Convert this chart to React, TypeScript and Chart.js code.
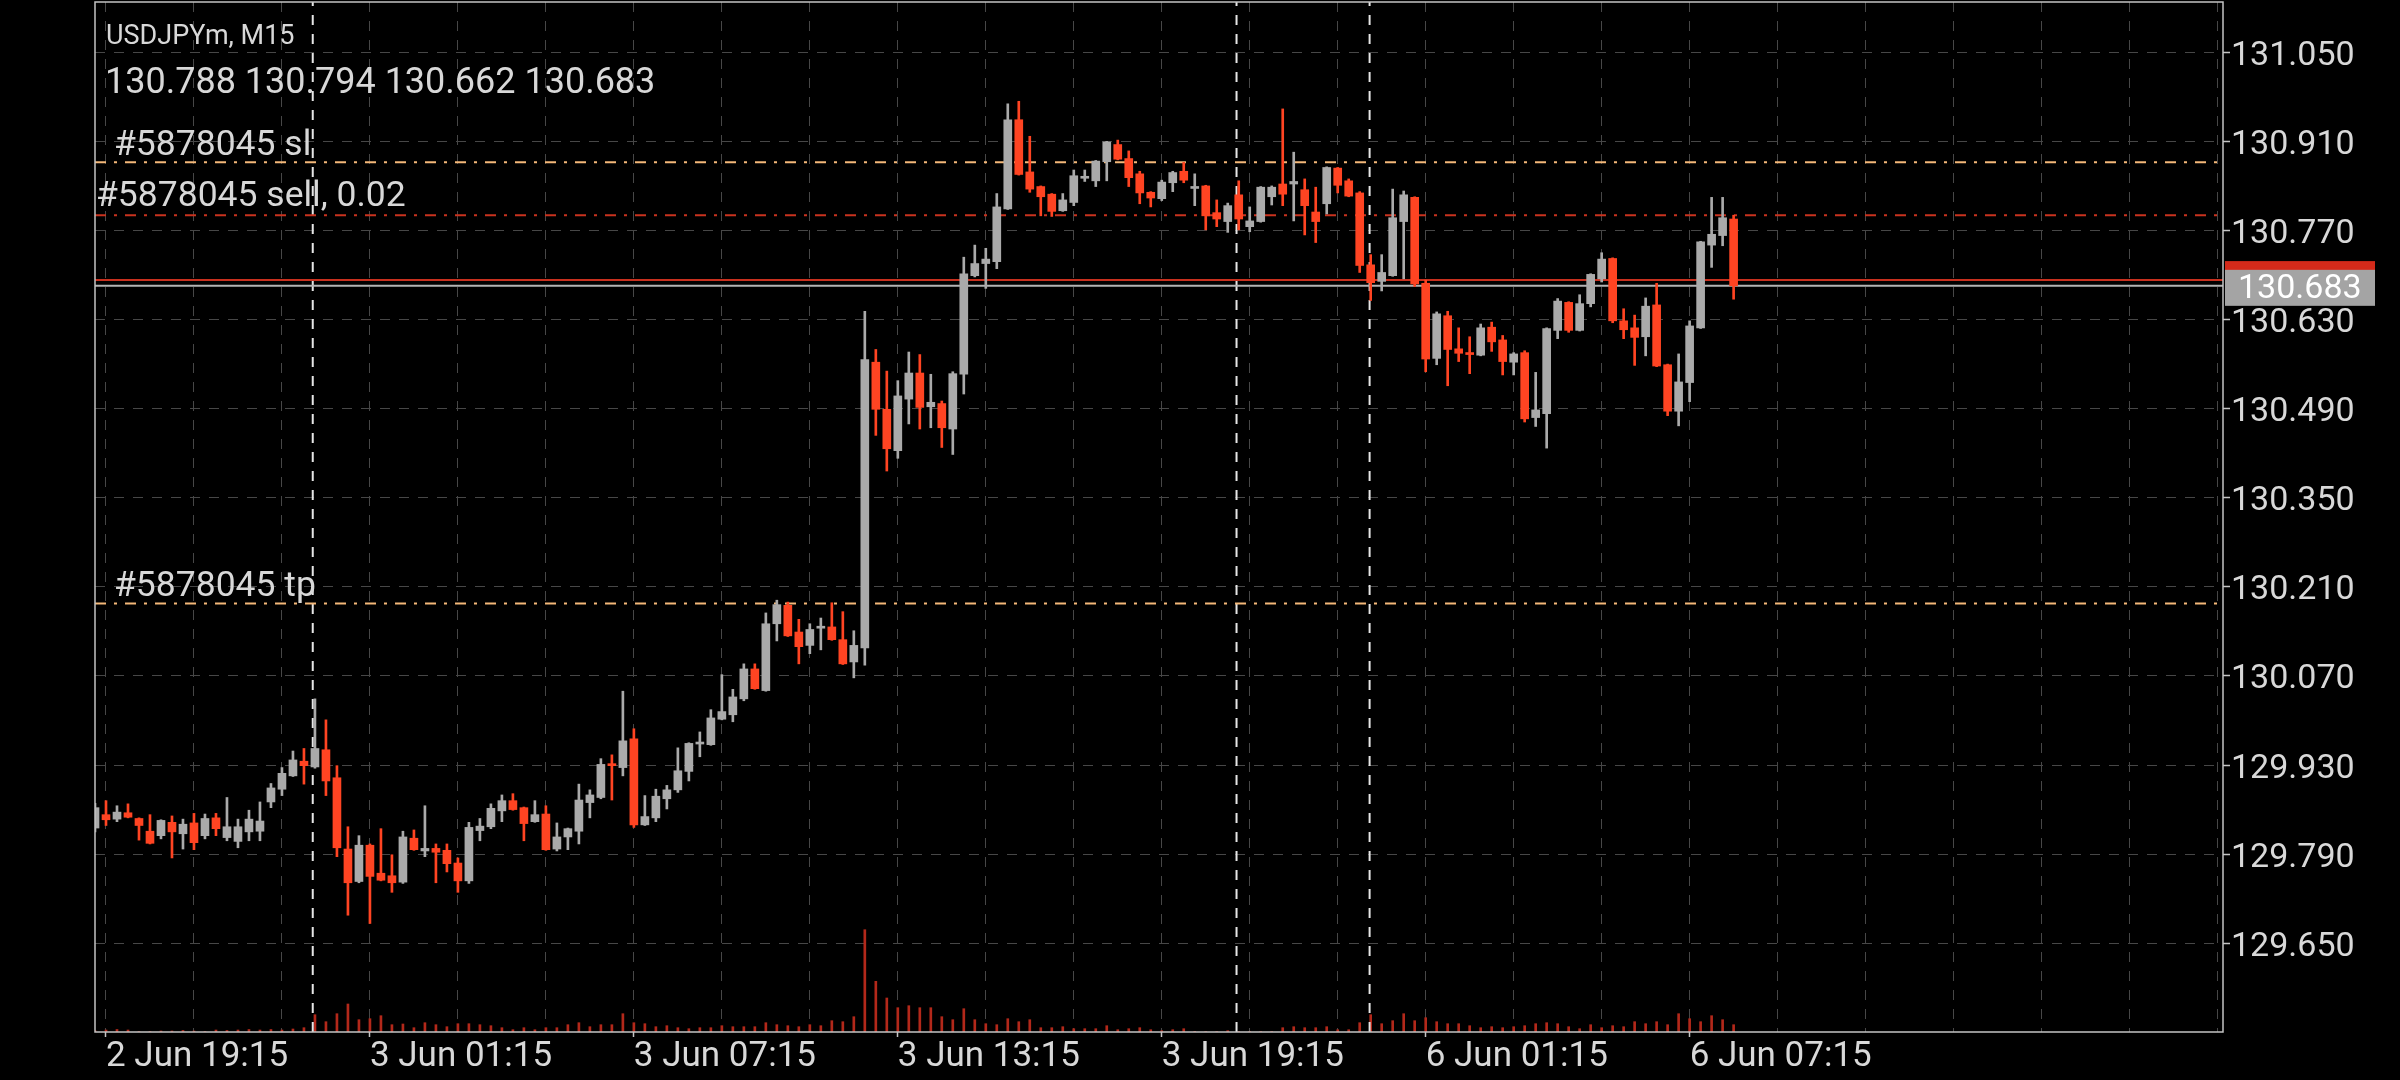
import React, { useEffect, useRef } from 'react';
import { Chart, registerables } from 'chart.js';

Chart.register(...registerables);

// ---------------- data ----------------
const SYMBOL = 'USDJPYm, M15';
// index of the first (partly hidden) bar: 2 Jun 19:00; index 0 = 2 Jun 19:15
const FIRST_BAR = -1;

const opens = [
  129.831, 129.852, 129.845, 129.855, 129.846, 129.826, 129.819, 129.840, 129.822, 129.839,
  129.819, 129.847, 129.816, 129.810, 129.825, 129.826, 129.872, 129.892, 129.913, 129.936,
  129.927, 129.954, 129.910, 129.798, 129.747, 129.804, 129.760, 129.756, 129.746, 129.815,
  129.795, 129.799, 129.796, 129.776, 129.748, 129.827, 129.833, 129.858, 129.874, 129.863,
  129.841, 129.853, 129.798, 129.817, 129.826, 129.871, 129.879, 129.931, 129.926, 129.971,
  129.836, 129.847, 129.877, 129.891, 129.920, 129.963, 129.962, 130.002, 130.009, 130.034,
  130.081, 130.047, 130.152, 130.181, 130.139, 130.118, 130.145, 130.147, 130.127, 130.092,
  130.114, 130.563, 130.489, 130.424, 130.505, 130.546, 130.493, 130.498, 130.458, 130.544,
  130.699, 130.718, 130.721, 130.804, 130.944, 130.862, 130.839, 130.827, 130.801, 130.814,
  130.852, 130.848, 130.878, 130.905, 130.883, 130.859, 130.830, 130.820, 130.845, 130.863,
  130.836, 130.840, 130.798, 130.784, 130.826, 130.776, 130.784, 130.823, 130.843, 130.843,
  130.834, 130.799, 130.812, 130.868, 130.848, 130.829, 130.716, 130.690, 130.699, 130.784,
  130.822, 130.687, 130.569, 130.636, 130.584, 130.577, 130.574, 130.618, 130.598, 130.563,
  130.578, 130.476, 130.482, 130.613, 130.657, 130.613, 130.655, 130.694, 130.726, 130.628,
  130.617, 130.603, 130.653, 130.559, 130.486, 130.531, 130.617, 130.747, 130.762, 130.788,
];
const highs = [
  129.870, 129.874, 129.866, 129.869, 129.847, 129.852, 129.844, 129.850, 129.845, 129.854,
  129.853, 129.854, 129.879, 129.845, 129.859, 129.872, 129.901, 129.926, 129.952, 129.956,
  130.034, 130.001, 129.929, 129.833, 129.819, 129.806, 129.830, 129.789, 129.826, 129.828,
  129.866, 129.806, 129.806, 129.784, 129.840, 129.846, 129.869, 129.883, 129.885, 129.864,
  129.874, 129.866, 129.839, 129.831, 129.900, 129.891, 129.940, 129.946, 130.046, 129.987,
  129.882, 129.892, 129.898, 129.957, 129.965, 129.982, 130.017, 130.072, 130.049, 130.089,
  130.089, 130.169, 130.189, 130.186, 130.159, 130.152, 130.161, 130.185, 130.171, 130.141,
  130.643, 130.583, 130.549, 130.534, 130.579, 130.575, 130.544, 130.502, 130.548, 130.728,
  130.747, 130.742, 130.828, 130.969, 130.973, 130.918, 130.840, 130.828, 130.828, 130.865,
  130.865, 130.880, 130.910, 130.912, 130.895, 130.863, 130.831, 130.849, 130.863, 130.877,
  130.859, 130.841, 130.818, 130.813, 130.848, 130.807, 130.839, 130.840, 130.961, 130.893,
  130.851, 130.838, 130.870, 130.869, 130.851, 130.831, 130.732, 130.732, 130.835, 130.832,
  130.823, 130.692, 130.642, 130.643, 130.617, 130.603, 130.623, 130.626, 130.605, 130.578,
  130.581, 130.547, 130.617, 130.663, 130.658, 130.669, 130.702, 130.735, 130.727, 130.647,
  130.637, 130.664, 130.687, 130.560, 130.576, 130.628, 130.753, 130.822, 130.822, 130.794,
];
const lows = [
  129.825, 129.835, 129.841, 129.847, 129.812, 129.806, 129.814, 129.784, 129.798, 129.797,
  129.814, 129.819, 129.811, 129.800, 129.811, 129.811, 129.863, 129.882, 129.912, 129.900,
  129.925, 129.882, 129.786, 129.694, 129.745, 129.681, 129.748, 129.730, 129.744, 129.796,
  129.786, 129.745, 129.762, 129.730, 129.744, 129.811, 129.830, 129.841, 129.859, 129.811,
  129.840, 129.796, 129.795, 129.797, 129.806, 129.847, 129.877, 129.875, 129.913, 129.832,
  129.835, 129.841, 129.861, 129.887, 129.905, 129.943, 129.961, 130.001, 129.998, 130.031,
  130.049, 130.046, 130.125, 130.132, 130.089, 130.105, 130.111, 130.126, 130.088, 130.067,
  130.087, 130.448, 130.392, 130.412, 130.466, 130.458, 130.460, 130.429, 130.418, 130.513,
  130.697, 130.679, 130.710, 130.803, 130.857, 130.830, 130.793, 130.792, 130.800, 130.809,
  130.847, 130.839, 130.848, 130.881, 130.839, 130.812, 130.807, 130.817, 130.831, 130.845,
  130.809, 130.771, 130.776, 130.767, 130.771, 130.768, 130.783, 130.810, 130.809, 130.785,
  130.763, 130.751, 130.796, 130.829, 130.823, 130.704, 130.660, 130.675, 130.698, 130.694,
  130.682, 130.548, 130.559, 130.526, 130.564, 130.545, 130.573, 130.580, 130.543, 130.543,
  130.469, 130.462, 130.428, 130.600, 130.610, 130.612, 130.650, 130.689, 130.625, 130.600,
  130.558, 130.573, 130.556, 130.479, 130.463, 130.501, 130.616, 130.712, 130.746, 130.662,
];
const closes = [
  129.863, 129.844, 129.856, 129.848, 129.835, 129.807, 129.843, 129.825, 129.837, 129.808,
  129.846, 129.830, 129.833, 129.833, 129.845, 129.842, 129.894, 129.917, 129.938, 129.929,
  129.956, 129.905, 129.800, 129.745, 129.804, 129.755, 129.749, 129.745, 129.817, 129.797,
  129.799, 129.793, 129.775, 129.748, 129.832, 129.834, 129.862, 129.874, 129.860, 129.838,
  129.852, 129.797, 129.817, 129.830, 129.875, 129.883, 129.931, 129.929, 129.968, 129.836,
  129.849, 129.881, 129.891, 129.921, 129.964, 129.966, 130.004, 130.014, 130.037, 130.081,
  130.050, 130.152, 130.182, 130.133, 130.116, 130.143, 130.147, 130.127, 130.089, 130.118,
  130.567, 130.489, 130.427, 130.510, 130.546, 130.492, 130.500, 130.460, 130.545, 130.702,
  130.718, 130.725, 130.807, 130.944, 130.858, 130.835, 130.823, 130.800, 130.818, 130.856,
  130.854, 130.879, 130.909, 130.882, 130.853, 130.829, 130.821, 130.846, 130.861, 130.849,
  130.838, 130.793, 130.788, 130.809, 130.788, 130.785, 130.838, 130.838, 130.827, 130.847,
  130.809, 130.784, 130.869, 130.841, 130.824, 130.715, 130.688, 130.704, 130.790, 130.826,
  130.686, 130.568, 130.639, 130.583, 130.577, 130.575, 130.617, 130.595, 130.564, 130.576,
  130.474, 130.488, 130.616, 130.659, 130.613, 130.655, 130.701, 130.725, 130.628, 130.614,
  130.602, 130.651, 130.557, 130.486, 130.532, 130.620, 130.752, 130.764, 130.790, 130.683,
];
// tick volumes
const volumes = [
  15, 20, 25, 20, 5, 5, 10, 10, 15, 10,
  5, 20, 15, 20, 25, 20, 25, 20, 30, 43,
  173, 103, 183, 280, 123, 133, 163, 73, 80, 43,
  93, 73, 53, 83, 83, 73, 63, 43, 23, 43,
  23, 43, 43, 73, 93, 53, 73, 73, 183, 93,
  83, 53, 63, 43, 33, 43, 43, 63, 53, 53,
  53, 93, 73, 63, 53, 73, 63, 113, 103, 153,
  1023, 507, 340, 243, 263, 243, 243, 153, 123, 233,
  123, 83, 73, 133, 103, 123, 43, 43, 53, 33,
  33, 33, 63, 23, 33, 43, 23, 13, 23, 33,
  6, 4, 4, 13, 5, 5, 5, 5, 43, 53,
  43, 43, 53, 23, 23, 93, 173, 83, 113, 183,
  113, 143, 103, 83, 83, 63, 43, 53, 43, 53,
  63, 83, 93, 83, 53, 33, 73, 43, 63, 53,
  103, 83, 103, 73, 183, 133, 103, 163, 123, 73,
];

const timeTickIndex = [0, 24, 48, 72, 96, 120, 144];
const timeTickLabels = ['2 Jun 19:15', '3 Jun 01:15', '3 Jun 07:15', '3 Jun 13:15', '3 Jun 19:15', '6 Jun 01:15', '6 Jun 07:15'];
const priceTicks = [129.65, 129.79, 129.93, 130.07, 130.21, 130.35, 130.49, 130.63, 130.77, 130.91, 131.05];
const separatorIndex = [18.8, 102.8, 114.9];

const BID = 130.683;
const ASK = 130.692;
const ORDER_TICKET = '#5878045';
const ORDER_LOTS = '0.02';
const ORDER_PRICE = 130.794;
const ORDER_SL = 130.877;
const ORDER_TP = 130.184;

// ---------------- view settings ----------------
const X_MIN = -1;
const X_MAX = 192.5;
const Y_MIN = 129.5105;
const Y_MAX = 131.129;
const VOL_MAX = 10300;
const GRID_STEP = 8;

const BULL = '#aaaaaa';
const BEAR = '#ff4422';
const VOL = '#b3281a';
const GRID = '#474747';
const FRAME = '#c4c4c4';
const TEXT = '#d8d8d8';
const FONT = 'Roboto';

export default function App() {
  const ref = useRef<HTMLCanvasElement>(null);

  useEffect(() => {
    document.body.style.margin = '0';
    document.body.style.background = '#000';
    const canvas = ref.current!;
    const bars = opens.map((_, k) => FIRST_BAR + k);
    const colors = bars.map((_, k) => (closes[k] >= opens[k] ? BULL : BEAR));
    const gridTicks: number[] = [];
    for (let v = 0; v <= X_MAX; v += GRID_STEP) gridTicks.push(v);

    const level = (value: number, color: string, dash: number[], width: number) => ({
      type: 'line' as const,
      data: [{ x: X_MIN, y: value }, { x: X_MAX, y: value }],
      borderColor: color,
      borderWidth: width,
      borderDash: dash,
      pointRadius: 0,
      order: 4,
      yAxisID: 'y',
    });
    const separator = (idx: number) => ({
      type: 'line' as const,
      data: [{ x: idx, y: Y_MIN }, { x: idx, y: Y_MAX }],
      borderColor: '#e6e6e6',
      borderWidth: 2,
      borderDash: [10, 9],
      pointRadius: 0,
      order: 5,
      yAxisID: 'y',
    });

    const last = opens.length - 1;
    const ohlcText = [opens[last], highs[last], lows[last], closes[last]].map((v) => v.toFixed(3)).join(' ');

    const overlay = {
      id: 'mt5overlay',
      afterDraw(chart: any) {
        const { ctx, chartArea: a } = chart;
        const y = chart.scales.y;
        ctx.save();
        // frame
        ctx.strokeStyle = FRAME;
        ctx.lineWidth = 1.5;
        ctx.strokeRect(a.left, a.top, a.right - a.left, a.bottom - a.top);
        // header
        ctx.fillStyle = TEXT;
        ctx.textAlign = 'left';
        ctx.textBaseline = 'alphabetic';
        ctx.font = `27px ${FONT}`;
        ctx.fillText(SYMBOL, a.left + 11, 44);
        ctx.font = `36px ${FONT}`;
        ctx.fillText(ohlcText, a.left + 10, 93);
        // order labels
        ctx.font = `35.5px ${FONT}`;
        ctx.fillText(`${ORDER_TICKET} sl`, a.left + 19, y.getPixelForValue(ORDER_SL) - 7);
        ctx.fillText(`${ORDER_TICKET} sell, ${ORDER_LOTS}`, a.left + 1, y.getPixelForValue(ORDER_PRICE) - 9);
        ctx.fillText(`${ORDER_TICKET} tp`, a.left + 19, y.getPixelForValue(ORDER_TP) - 7);
        // price label
        const askY = y.getPixelForValue(ASK);
        const bidY = y.getPixelForValue(BID);
        const bx = a.right + 2;
        const bw = 150;
        ctx.fillStyle = '#d42a1a';
        ctx.fillRect(bx, askY - 19, bw, 36);
        ctx.fillStyle = '#a4a4a4';
        ctx.fillRect(bx, bidY - 16, bw, 36);
        ctx.fillStyle = '#ffffff';
        ctx.font = `34px ${FONT}`;
        ctx.textBaseline = 'middle';
        ctx.fillText(BID.toFixed(3), bx + 13, bidY + 4);
        ctx.restore();
      },
    };

    const chart = new Chart(canvas, {
      type: 'bar',
      data: {
        datasets: [
          {
            type: 'bar',
            data: bars.map((x, k) => ({ x, y: [opens[k], closes[k]] })) as any,
            backgroundColor: colors,
            barThickness: 8,
            minBarLength: 2,
            grouped: false,
            order: 1,
            yAxisID: 'y',
          },
          {
            type: 'bar',
            data: bars.map((x, k) => ({ x, y: [lows[k], highs[k]] })) as any,
            backgroundColor: colors,
            barThickness: 2,
            grouped: false,
            order: 2,
            yAxisID: 'y',
          },
          level(ORDER_SL, '#f4b879', [11, 8, 3, 8], 2),
          level(ORDER_PRICE, '#c9331f', [11, 8, 3, 8], 2),
          level(ORDER_TP, '#f4b879', [11, 8, 3, 8], 2),
          level(ASK, '#c8301e', [], 2),
          level(BID, '#b4b4b4', [], 2),
          ...separatorIndex.map(separator),
          {
            type: 'bar',
            data: bars.map((x, k) => ({ x, y: volumes[k] })) as any,
            backgroundColor: VOL,
            barThickness: 2,
            grouped: false,
            order: 6,
            yAxisID: 'yv',
          },
        ] as any,
      },
      options: {
        responsive: false,
        maintainAspectRatio: false,
        animation: false,
        devicePixelRatio: 1,
        events: [],
        layout: { padding: { left: 95, top: 2, right: 0, bottom: 0 } },
        plugins: { legend: { display: false }, tooltip: { enabled: false } },
        scales: {
          x: {
            type: 'linear',
            min: X_MIN,
            max: X_MAX,
            offset: false,
            afterBuildTicks: (s: any) => {
              s.ticks = gridTicks.map((v) => ({ value: v }));
            },
            afterFit: (s: any) => {
              s.height = 48;
              s.paddingLeft = 0;
              s.paddingRight = 0;
            },
            ticks: {
              autoSkip: false,
              maxRotation: 0,
              minRotation: 0,
              align: 'start',
              padding: 3,
              color: TEXT,
              font: { family: FONT, size: 35, lineHeight: 1 },
              callback: (v: any) => {
                const k = timeTickIndex.indexOf(Number(v));
                return k >= 0 ? timeTickLabels[k] : '';
              },
            },
            grid: {
              offset: false,
              color: GRID,
              lineWidth: 1,
              tickLength: 5,
              tickWidth: 1.5,
              tickColor: (c: any) => (c.tick && timeTickIndex.includes(c.tick.value) ? FRAME : 'rgba(0,0,0,0)'),
            },
            border: { display: false, dash: [10, 9] },
          },
          y: {
            type: 'linear',
            position: 'right',
            min: Y_MIN,
            max: Y_MAX,
            afterBuildTicks: (s: any) => {
              s.ticks = priceTicks.map((v) => ({ value: v }));
            },
            afterFit: (s: any) => {
              s.width = 177;
              s.paddingTop = 0;
              s.paddingBottom = 0;
            },
            ticks: {
              autoSkip: false,
              padding: 1,
              labelOffset: 4,
              color: TEXT,
              font: { family: FONT, size: 34 },
              callback: (v: any) => Number(v).toFixed(3),
            },
            grid: {
              color: GRID,
              lineWidth: 1,
              tickLength: 7,
              tickWidth: 1.5,
              tickColor: FRAME,
            },
            border: { display: false, dash: [10, 9] },
          },
          yv: {
            type: 'linear',
            display: false,
            min: 0,
            max: VOL_MAX,
          },
        },
      } as any,
      plugins: [overlay],
    });
    return () => chart.destroy();
  }, []);

  return (
    <div style={{ width: 2400, height: 1080, background: '#000' }}>
      <canvas ref={ref} width={2400} height={1080} style={{ display: 'block' }} />
    </div>
  );
}
